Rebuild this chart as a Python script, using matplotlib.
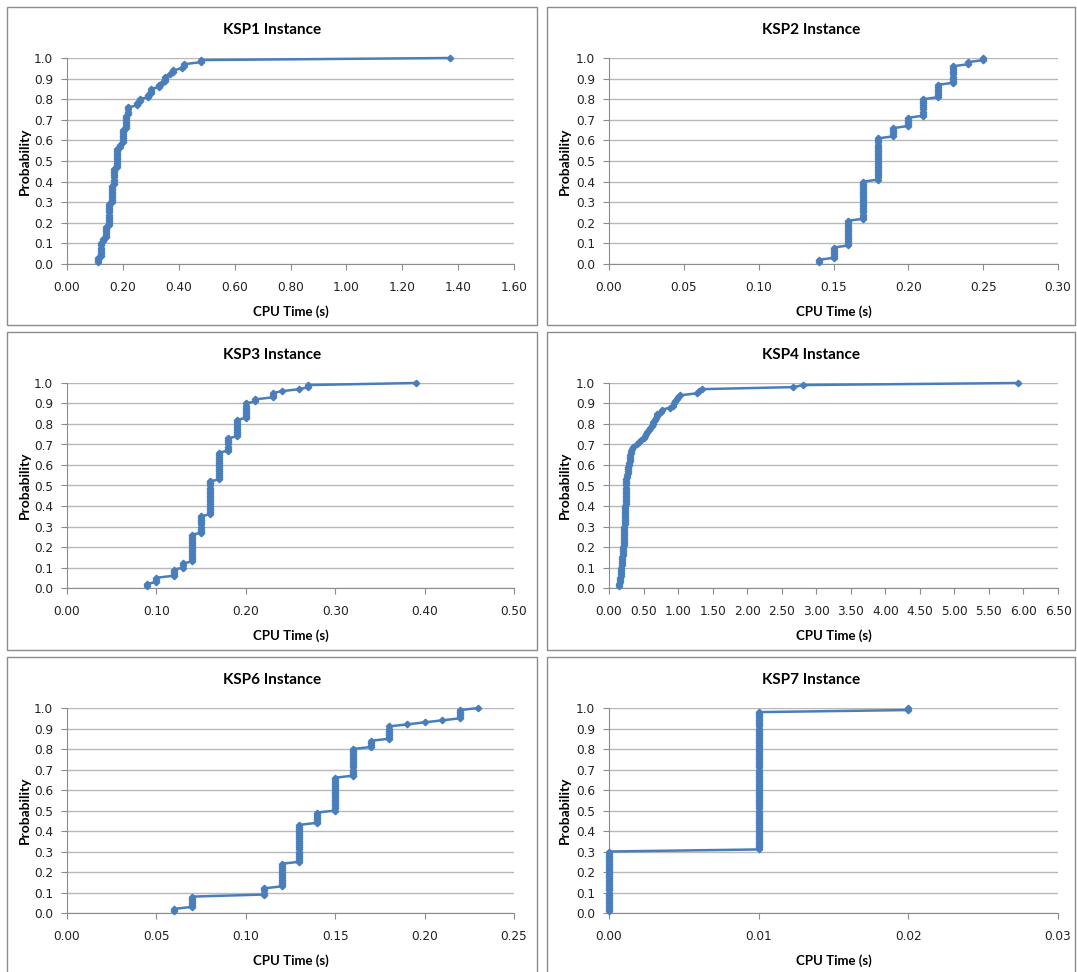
import numpy as np
import matplotlib
matplotlib.use("Agg")
import matplotlib.pyplot as plt
from matplotlib.patches import Rectangle

# ECDF data: distinct CPU times (s) and how many of the 100 runs hit each
ksp1_t = [0.11, 0.12, 0.13, 0.14, 0.15, 0.16, 0.17, 0.18, 0.19, 0.20, 0.21, 0.22, 0.25,
          0.26, 0.29, 0.30, 0.33, 0.34, 0.35, 0.37, 0.38, 0.41, 0.42, 0.48, 1.37]
ksp1_n = [3, 7, 2, 6, 11, 9, 8, 10, 2, 7, 7, 4, 2, 2, 2, 3, 2, 1, 3, 1, 2, 1, 2, 2, 1]

ksp2_t = [0.14, 0.15, 0.16, 0.17, 0.18, 0.19, 0.20, 0.21, 0.22, 0.23, 0.24, 0.25]
ksp2_n = [2, 6, 13, 19, 21, 5, 5, 9, 7, 9, 2, 2]

ksp3_t = [0.09, 0.10, 0.12, 0.13, 0.14, 0.15, 0.16, 0.17, 0.18, 0.19, 0.20, 0.21, 0.23,
          0.24, 0.26, 0.27, 0.39]
ksp3_n = [2, 3, 4, 3, 14, 9, 17, 14, 7, 9, 8, 2, 3, 1, 1, 2, 1]

ksp4_t = [0.15, 0.16, 0.17, 0.18, 0.19, 0.20, 0.21, 0.22, 0.23, 0.24, 0.25, 0.26, 0.27,
          0.28, 0.29, 0.30, 0.31, 0.32, 0.33, 0.35, 0.40, 0.44, 0.47, 0.50, 0.52, 0.53,
          0.55, 0.58, 0.60, 0.62, 0.63, 0.64, 0.66, 0.68, 0.70, 0.75, 0.77, 0.88, 0.92,
          0.94, 0.96, 0.98, 1.00, 1.03, 1.28, 1.30, 1.35, 2.67, 2.81, 5.92]
ksp4_n = [2, 3, 2, 3, 5, 5, 5, 5, 10, 10, 3, 2, 2, 2, 2, 2, 2, 2, 1, 1, 1, 1, 1, 1, 1, 1,
          1, 1, 1, 1, 1, 1, 1, 1, 2, 1, 1, 1, 1, 1, 1, 1, 1, 1, 1, 1, 1, 1, 1, 1]

ksp6_t = [0.06, 0.07, 0.11, 0.12, 0.13, 0.14, 0.15, 0.16, 0.17, 0.18, 0.19, 0.20, 0.21,
          0.22, 0.23]
ksp6_n = [2, 6, 4, 12, 19, 6, 17, 14, 4, 7, 1, 1, 1, 5, 1]

ksp7_t = [0.00, 0.01, 0.02]
ksp7_n = [30, 68, 2]

titles = ["KSP1 Instance", "KSP2 Instance", "KSP3 Instance",
          "KSP4 Instance", "KSP6 Instance", "KSP7 Instance"]
xmax = [1.60, 0.30, 0.50, 6.50, 0.25, 0.03]
xstep = [0.20, 0.05, 0.10, 0.50, 0.05, 0.01]
series = [(ksp1_t, ksp1_n), (ksp2_t, ksp2_n), (ksp3_t, ksp3_n),
          (ksp4_t, ksp4_n), (ksp6_t, ksp6_n), (ksp7_t, ksp7_n)]

BLUE = "#4A7EBB"
W, H = 1077, 972
fig = plt.figure(figsize=(W / 100, H / 100), dpi=100)

# pixel layout of each chart (left/right column, three rows)
col_ax = [(67, 514), (609, 1058)]
col_box = [(7, 537), (547, 1075)]
row_y1 = [58, 383, 708]      # pixel row of p = 1.0
row_y0 = [264, 588, 913]     # pixel row of p = 0.0
row_box = [(7, 325), (332, 650), (657, 990)]

for i, (title, (t, n)) in enumerate(zip(titles, series)):
    r, c = divmod(i, 2)
    xl, xr = col_ax[c]
    ax = fig.add_axes([xl / W, 1 - row_y0[r] / H, (xr - xl) / W, (row_y0[r] - row_y1[r]) / H])

    bx0, bx1 = col_box[c]
    by0, by1 = row_box[r]
    fig.patches.append(Rectangle((bx0 / W, 1 - by1 / H), (bx1 - bx0) / W, (by1 - by0) / H,
                                 transform=fig.transFigure, fill=False,
                                 edgecolor="#8c8c8c", lw=1.0, zorder=0))

    x = np.repeat(t, n)
    p = np.cumsum(np.ones(len(x))) / len(x)
    ax.plot(x, p, color=BLUE, lw=1.8, marker="D", ms=3.3, mec=BLUE, mfc=BLUE,
            clip_on=False, zorder=3)

    ax.set_xlim(0, xmax[i])
    ax.set_ylim(0, 1.0)
    ax.set_xticks(np.arange(0, xmax[i] + xstep[i] / 2, xstep[i]))
    ax.set_yticks(np.arange(0, 1.05, 0.1))
    ax.xaxis.set_major_formatter(matplotlib.ticker.FormatStrFormatter("%.2f"))
    ax.yaxis.set_major_formatter(matplotlib.ticker.FormatStrFormatter("%.1f"))
    ax.tick_params(labelsize=8.7, labelcolor="#222222", length=4, width=0.8, pad=6)
    ax.tick_params(axis="x", pad=8)
    ax.tick_params(color="#8c8c8c", which="both")
    ax.grid(axis="y", color="#b8b8b8", lw=1.0)
    ax.set_axisbelow(True)
    for s in ("top", "right"):
        ax.spines[s].set_visible(False)
    for s in ("left", "bottom"):
        ax.spines[s].set_color("#8c8c8c")

    fig.text((bx0 + bx1) / 2 / W, 1 - (row_y1[r] - 28) / H, title, ha="center", va="center",
             fontsize=11, fontweight="bold", family="Lato")
    fig.text((xl + xr) / 2 / W, 1 - (row_y0[r] + 48) / H, "CPU Time (s)", ha="center",
             va="center", fontsize=9.5, fontweight="bold", family="Lato")
    fig.text((bx0 + 18) / W, 1 - (row_y1[r] + row_y0[r]) / 2 / H, "Probability", ha="center",
             va="center", rotation=90, fontsize=10, fontweight="bold", family="Lato")

fig.savefig("out.png", dpi=100)
